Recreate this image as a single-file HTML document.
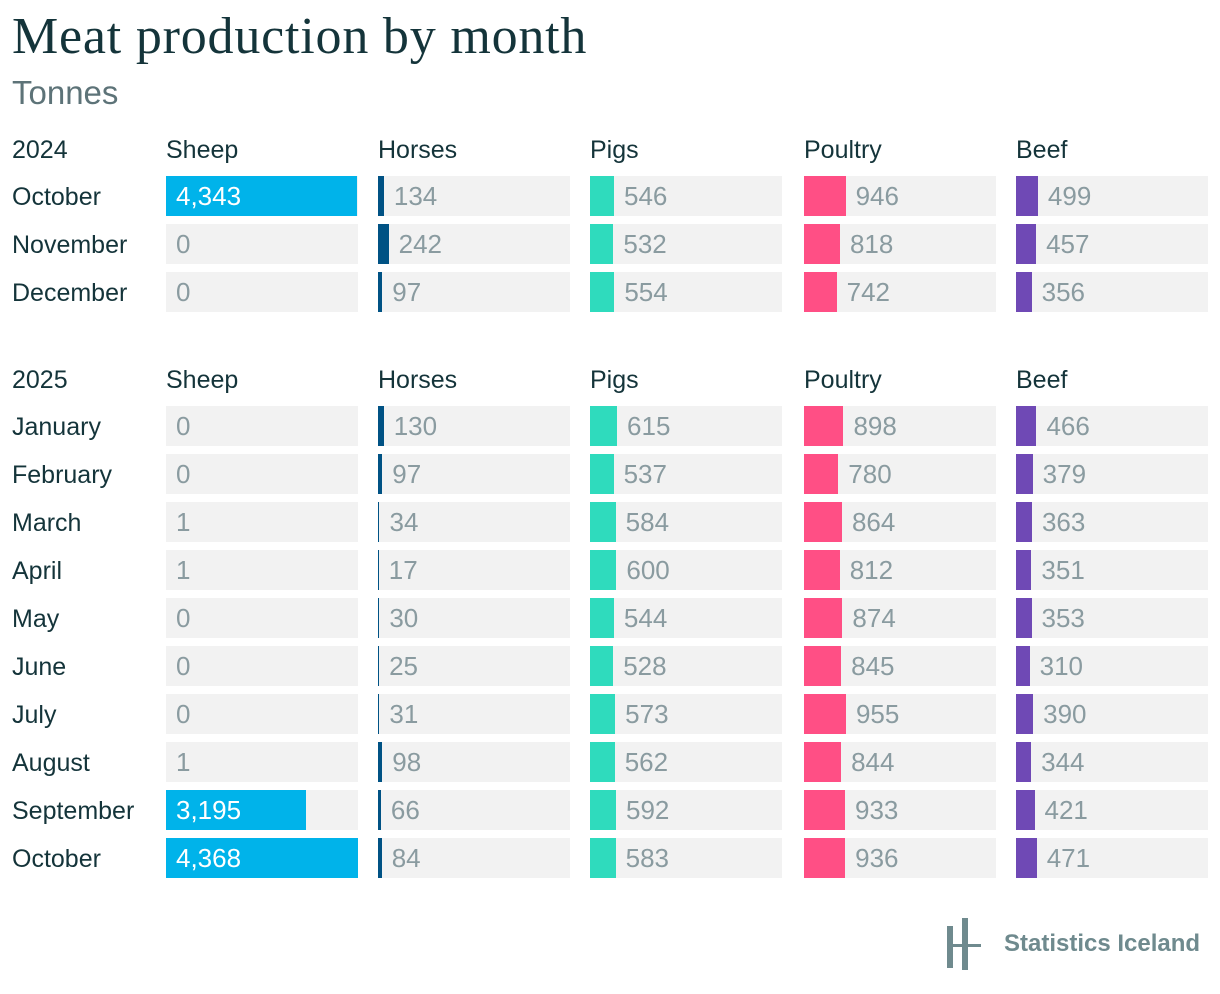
<!DOCTYPE html>
<html><head><meta charset="utf-8"><style>
body{margin:0;width:1220px;height:994px;background:#fff;font-family:"Liberation Sans",sans-serif;position:relative;overflow:hidden}
.t{position:absolute;white-space:nowrap}
#title{left:12px;top:7px;font-family:"Liberation Serif",serif;font-size:52px;letter-spacing:0.8px;color:#14343a}
#sub{left:12px;top:74px;font-size:33px;color:#5d7378}
.hd{font-size:25px;color:#14343a}
.lab{font-size:25px;color:#14343a}
.cell{position:absolute;height:40px;width:192px;background:#f2f2f2}
.bar{position:absolute;left:0;top:0;height:40px}
.val{position:absolute;top:0;line-height:40px;font-size:26px;color:#8a9ba0}
</style></head><body>
<div id="title" class="t">Meat production by month</div>
<div id="sub" class="t">Tonnes</div>
<div id="chart"></div>
<div class="t" style="left:946px;top:916px;width:260px;height:56px">
<svg width="40" height="56" style="position:absolute;left:0;top:0">
<rect x="1" y="10" width="6" height="42" fill="#6f8a8e"/><rect x="16" y="2" width="6" height="52" fill="#6f8a8e"/><rect x="1" y="28" width="34" height="3" fill="#6f8a8e"/></svg>
<div class="t" style="left:58px;top:14px;font-size:24px;color:#6f8a8e;font-weight:bold">Statistics Iceland</div>
</div>
<script>
const categories=["Sheep","Horses","Pigs","Poultry","Beef"];
const colors=["#00b3ea","#005284","#2fdbbd","#ff4f85","#6f49b5"];
const months2024=["October","November","December"];
const sheep2024=[4343,0,0];
const horses2024=[134,242,97];
const pigs2024=[546,532,554];
const poultry2024=[946,818,742];
const beef2024=[499,457,356];
const months2025=["January","February","March","April","May","June","July","August","September","October"];
const sheep2025=[0,0,1,1,0,0,0,1,3195,4368];
const horses2025=[130,97,34,17,30,25,31,98,66,84];
const pigs2025=[615,537,584,600,544,528,573,562,592,583];
const poultry2025=[898,780,864,812,874,845,955,844,933,936];
const beef2025=[466,379,363,351,353,310,390,344,421,471];
const maxV=4368, W=192;
const colX=[166,378,590,804,1016];
const x=v=>v/maxV*W;
const chart=document.getElementById('chart');
function mk(cls,style,text){const d=document.createElement('div');d.className=cls;d.style.cssText=style;if(text!==undefined)d.textContent=text;return d;}
function section(year,top,months,series){
 const y=mk('t hd',`left:12px;top:${top-14}px`,year);
 
 
 chart.appendChild(y);
 categories.forEach((c,i)=>{const h=mk('t hd',`left:${colX[i]}px;top:${top-14}px`,c);
  
  
  chart.appendChild(h);});
 months.forEach((m,r)=>{
  const ry=top+26+r*48;
  const l=mk('t lab',`left:12px;top:${ry+7}px`,m);
  
  
  chart.appendChild(l);
  series.forEach((s,i)=>{
   const v=s[r];const bw=x(v);
   const cell=mk('cell',`left:${colX[i]}px;top:${ry}px`);
   
   
   const b=mk('bar',`width:${bw}px;background:${colors[i]}`);
   
   
   cell.appendChild(b);
   const inside=bw>80;
   const t=mk('val',`left:${inside?10:bw+10}px;${inside?'color:#fff':''}`,v.toLocaleString('en-US'));
   
   
   cell.appendChild(t);
   chart.appendChild(cell);
  });
 });
}
section("2024",150,months2024,[sheep2024,horses2024,pigs2024,poultry2024,beef2024]);
section("2025",380,months2025,[sheep2025,horses2025,pigs2025,poultry2025,beef2025]);
</script>
</body></html>
